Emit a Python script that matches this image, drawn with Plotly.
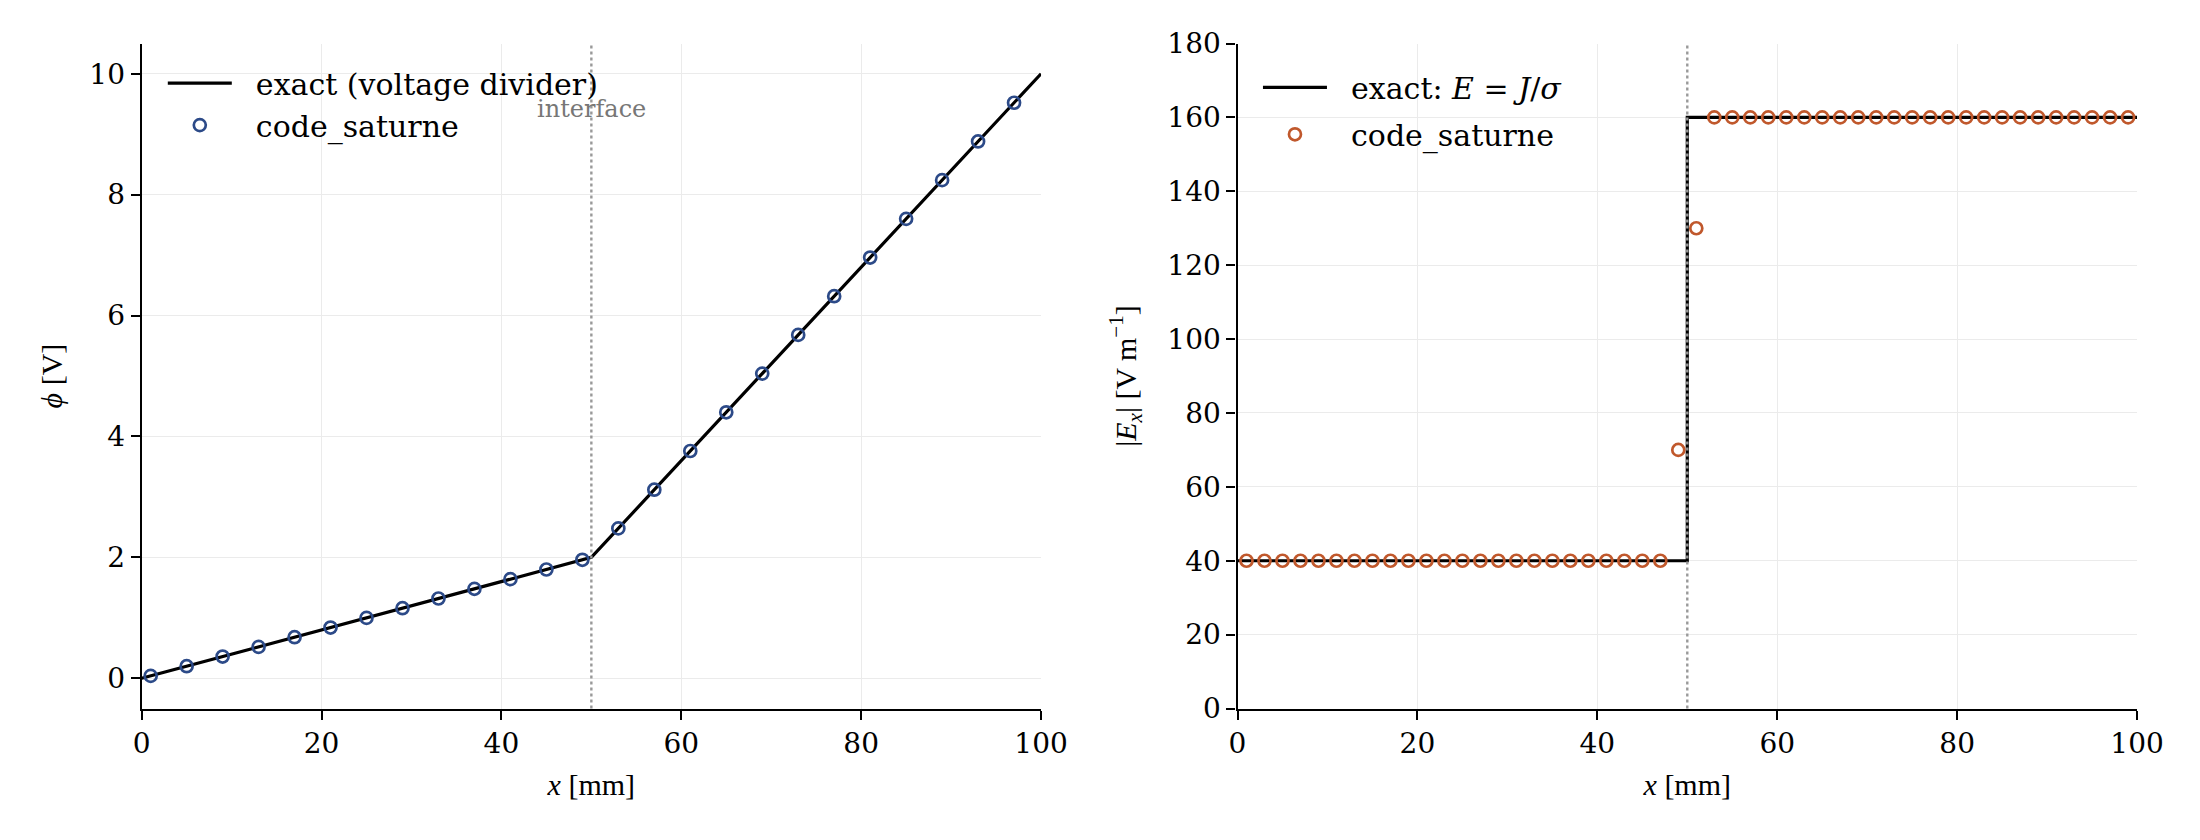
import plotly.graph_objects as go

# ---- data ----
phi_exact_x = [0, 50, 100]
phi_exact_y = [0.0, 2.0, 10.0]
phi_x = [1, 5, 9, 13, 17, 21, 25, 29, 33, 37, 41, 45, 49,
         53, 57, 61, 65, 69, 73, 77, 81, 85, 89, 93, 97]
phi_cs = [0.04, 0.20, 0.36, 0.52, 0.68, 0.84, 1.00, 1.16, 1.32, 1.48, 1.64, 1.80, 1.96,
          2.48, 3.12, 3.76, 4.40, 5.04, 5.68, 6.32, 6.96, 7.60, 8.24, 8.88, 9.52]

E_exact_x = [0, 50, 50, 100]
E_exact_y = [40, 40, 160, 160]
E_x = [1, 3, 5, 7, 9, 11, 13, 15, 17, 19, 21, 23, 25, 27, 29, 31, 33, 35, 37, 39, 41, 43, 45, 47,
       49, 51,
       53, 55, 57, 59, 61, 63, 65, 67, 69, 71, 73, 75, 77, 79, 81, 83, 85, 87, 89, 91, 93, 95, 97, 99]
E_cs = [40, 40, 40, 40, 40, 40, 40, 40, 40, 40, 40, 40, 40, 40, 40, 40, 40, 40, 40, 40, 40, 40, 40, 40,
        70, 130,
        160, 160, 160, 160, 160, 160, 160, 160, 160, 160, 160, 160, 160, 160, 160, 160, 160, 160, 160, 160, 160, 160, 160, 160]

interface_x = 50

BLUE = "#2c4a88"
ORANGE = "#c0582c"
SERIF = "DejaVu Serif"
MATH = "Liberation Serif"
PAD = "\u00a0\u00a0"

fig = go.Figure()

fig.add_trace(go.Scatter(x=phi_exact_x, y=phi_exact_y, mode="lines",
                         line=dict(color="black", width=3.2),
                         name=PAD + "exact (voltage divider)", legend="legend", legendgroup="a",
                         xaxis="x", yaxis="y"))
fig.add_trace(go.Scatter(x=phi_x, y=phi_cs, mode="markers",
                         marker=dict(symbol="circle-open", size=12, color=BLUE, line=dict(width=2.7, color=BLUE)),
                         name=PAD + "code_saturne", legend="legend", legendgroup="b",
                         xaxis="x", yaxis="y"))
fig.add_trace(go.Scatter(x=E_exact_x, y=E_exact_y, mode="lines",
                         line=dict(color="black", width=3.2),
                         name=PAD + "exact: <i>E</i> = <i>J</i>/<i>σ</i>", legend="legend2", legendgroup="c",
                         xaxis="x2", yaxis="y2"))
fig.add_trace(go.Scatter(x=E_x, y=E_cs, mode="markers",
                         marker=dict(symbol="circle-open", size=12, color=ORANGE, line=dict(width=2.7, color=ORANGE)),
                         name=PAD + "code_saturne", legend="legend2", legendgroup="d",
                         xaxis="x2", yaxis="y2"))

axis_common = dict(showline=True, linecolor="black", linewidth=2.2, mirror=False,
                   ticks="outside", ticklen=9, tickwidth=2.2, tickcolor="black",
                   showgrid=True, gridcolor="#ebebeb", gridwidth=1.3, zeroline=False,
                   automargin=False,
                   tickfont=dict(family=SERIF, size=28, color="black"))

title_font = dict(family=MATH, size=30, color="black")

fig.update_layout(
    width=2200, height=840,
    margin=dict(l=0, r=0, t=0, b=0),
    paper_bgcolor="white", plot_bgcolor="white",
    xaxis=dict(domain=[0.0644, 0.4732], range=[0, 100], dtick=20, anchor="y",
               title=dict(text="<i>x</i> [mm]", font=title_font, standoff=15),
               **axis_common),
    yaxis=dict(domain=[0.1565, 0.9482], range=[-0.5, 10.5], dtick=2, anchor="x",
               title=dict(text="<i>ϕ</i> [V]", font=title_font, standoff=18),
               **axis_common),
    xaxis2=dict(domain=[0.5625, 0.9714], range=[0, 100], dtick=20, anchor="y2",
                title=dict(text="<i>x</i> [mm]", font=title_font, standoff=15),
                **axis_common),
    yaxis2=dict(domain=[0.1565, 0.9482], range=[0, 180], dtick=20, anchor="x2",
                title=dict(text="|<i>E<sub>x</sub></i>| [V m<sup>−1</sup>]", font=title_font, standoff=22),
                **axis_common),
    legend=dict(x=0.074, y=0.932, xanchor="left", yanchor="top", bgcolor="rgba(255,255,255,0)",
                font=dict(family=SERIF, size=30, color="black"), tracegroupgap=0, traceorder="grouped",
                itemwidth=64),
    legend2=dict(x=0.5718, y=0.927, xanchor="left", yanchor="top", bgcolor="rgba(255,255,255,0)",
                 font=dict(family=SERIF, size=30, color="black"), tracegroupgap=5, traceorder="grouped",
                 itemwidth=64),
    showlegend=True,
)

for xr, yr in (("x", "y domain"), ("x2", "y2 domain")):
    fig.add_shape(type="line", xref=xr, yref=yr, x0=interface_x, x1=interface_x, y0=0, y1=1,
                  line=dict(color="#999999", width=2.4, dash="dot"), layer="above")

fig.add_annotation(x=interface_x, y=9.42, xref="x", yref="y", text="interface", showarrow=False,
                   font=dict(family=SERIF, size=24, color="#777777"), xanchor="center", yanchor="middle")

fig.write_html("out.html")
